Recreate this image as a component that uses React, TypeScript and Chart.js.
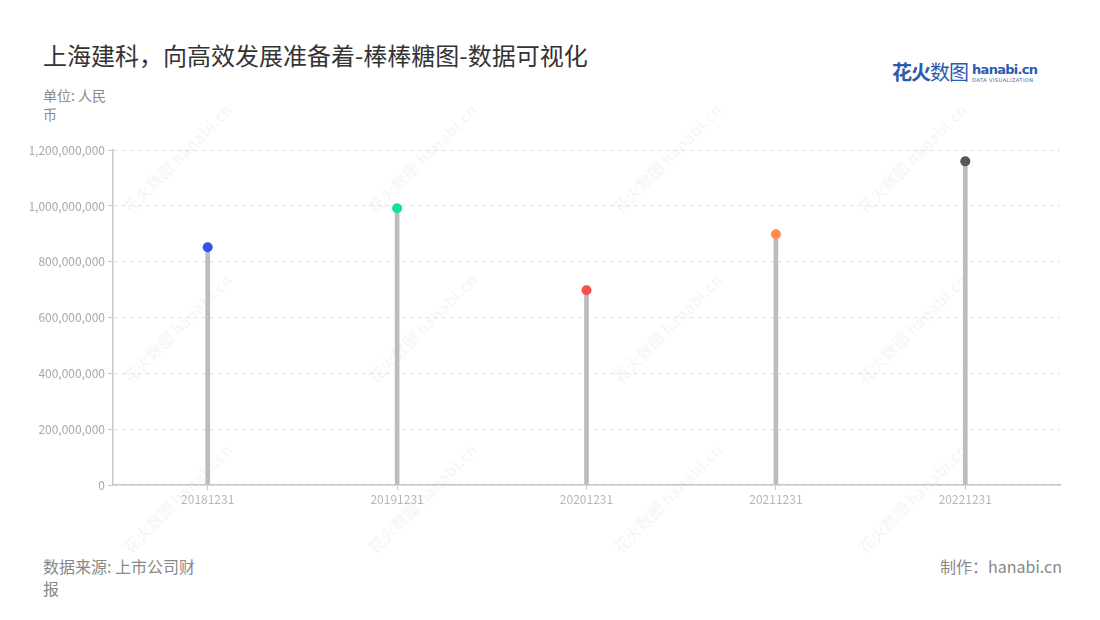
import React, { useEffect, useRef } from "react";
import { Chart, registerables } from "chart.js";

Chart.register(...registerables);

const categories = ["20181231", "20191231", "20201231", "20211231", "20221231"];
const values = [852000000, 992000000, 698000000, 899000000, 1160000000];
const dotColors = ["#3056e8", "#0fe0a0", "#f2534d", "#ff8c4e", "#55555e"];
const yTicks = [0, 200000000, 400000000, 600000000, 800000000, 1000000000, 1200000000];

const FONT = "'Noto Sans CJK SC', 'Noto Sans', sans-serif";

export default function App() {
  const ref = useRef<HTMLCanvasElement | null>(null);

  useEffect(() => {
    if (!ref.current) return;
    const chart = new Chart(ref.current, {
      type: "bar",
      data: {
        labels: categories,
        datasets: [
          {
            type: "line",
            data: values,
            showLine: false,
            pointRadius: 5,
            pointHoverRadius: 5,
            pointBorderWidth: 0,
            pointBackgroundColor: dotColors,
            pointBorderColor: dotColors,
            order: 0,
          } as any,
          {
            type: "bar",
            data: values,
            backgroundColor: "#bcbcbc",
            barThickness: 4,
            order: 1,
          },
        ],
      },
      options: {
        animation: false,
        responsive: false,
        maintainAspectRatio: false,
        layout: { padding: { top: 10, right: 10, left: 0, bottom: 0 } },
        plugins: { legend: { display: false }, tooltip: { enabled: false } },
        scales: {
          x: {
            offset: true,
            grid: {
              display: true,
              offset: false,
              drawOnChartArea: false,
              drawTicks: true,
              tickLength: 5,
              color: "#c8c8c8",
            },
            border: { color: "#c8c8c8", width: 1.5 },
            ticks: {
              color: "#b3b7c2",
              font: { family: FONT, size: 12 },
              padding: 2,
            },
            afterFit: (s: any) => {
              s.height = 30;
            },
          },
          y: {
            min: 0,
            max: 1200000000,
            afterBuildTicks: (s: any) => {
              s.ticks = yTicks.map((v) => ({ value: v }));
            },
            grid: {
              color: "#e0e0e0",
              tickLength: 5,
              tickColor: "#c8c8c8",
              tickBorderDash: [],
            } as any,
            border: { color: "#c8c8c8", width: 1.5, dash: [4, 4] } as any,
            ticks: {
              color: "#a8a8a8",
              font: { family: FONT, size: 12 },
              padding: 3,
              callback: (v: any) => Number(v).toLocaleString("en-US"),
            },
            afterFit: (s: any) => {
              s.width = 83;
            },
          },
        },
      },
    });
    return () => chart.destroy();
  }, []);

  const wm: { x: number; y: number }[] = [];
  const cols = [175, 420, 665, 910];
  const rows = [160, 330, 500];
  cols.forEach((cx) =>
    rows.forEach((cy) => {
      wm.push({ x: cx, y: cy });
    })
  );

  return (
    <div
      style={{
        position: "absolute",
        left: 0,
        top: 0,
        width: 1100,
        height: 620,
        background: "#fff",
        fontFamily: FONT,
        overflow: "hidden",
      }}
    >
      <div
        style={{
          position: "absolute",
          left: 43,
          top: 38,
          fontSize: 24,
          color: "#333",
          lineHeight: "34px",
          whiteSpace: "nowrap",
        }}
      >
        上海建科，向高效发展准备着-棒棒糖图-数据可视化
      </div>
      <div
        style={{
          position: "absolute",
          left: 43,
          top: 86,
          width: 68,
          fontSize: 14,
          color: "#8a8a8a",
          lineHeight: "19px",
        }}
      >
        单位: 人民币
      </div>
      <div
        style={{
          position: "absolute",
          left: 892,
          top: 58,
          display: "flex",
          alignItems: "flex-start",
          color: "#2a5bb0",
        }}
      >
        <span style={{ fontSize: 20, fontWeight: 700, lineHeight: "28px", letterSpacing: -1 }}>
          花火<span style={{ fontWeight: 400 }}>数图</span>
        </span>
        <span style={{ display: "flex", flexDirection: "column", marginLeft: 4, marginTop: 5 }}>
          <span style={{ fontSize: 13, fontWeight: 700, lineHeight: "14px", fontFamily: "'DejaVu Sans', sans-serif", letterSpacing: -0.7 }}>
            hanabi.cn
          </span>
          <span style={{ fontSize: 5, lineHeight: "6px", letterSpacing: 0.5, fontFamily: "'DejaVu Sans', sans-serif" }}>
            DATA VISUALIZATION
          </span>
        </span>
      </div>
      {wm.map((p, i) => (
        <div
          key={i}
          style={{
            position: "absolute",
            left: p.x - 70,
            top: p.y - 12,
            width: 140,
            textAlign: "center",
            transform: "rotate(-45deg)",
            fontSize: 16,
            fontWeight: 700,
            color: "rgba(0,0,0,0.05)",
            whiteSpace: "nowrap",
            pointerEvents: "none",
          }}
        >
          花火数图 hanabi.cn
        </div>
      ))}
      <canvas
        ref={ref}
        width={1040}
        height={375}
        style={{ position: "absolute", left: 30, top: 140, width: 1040, height: 375 }}
      />
      <div
        style={{
          position: "absolute",
          left: 43,
          top: 555,
          width: 160,
          fontSize: 16,
          color: "#888",
          lineHeight: "22px",
        }}
      >
        数据来源: 上市公司财报
      </div>
      <div
        style={{
          position: "absolute",
          right: 38,
          top: 555,
          fontSize: 16,
          color: "#888",
          lineHeight: "22px",
          whiteSpace: "nowrap",
        }}
      >
        制作：hanabi.cn
      </div>
    </div>
  );
}
